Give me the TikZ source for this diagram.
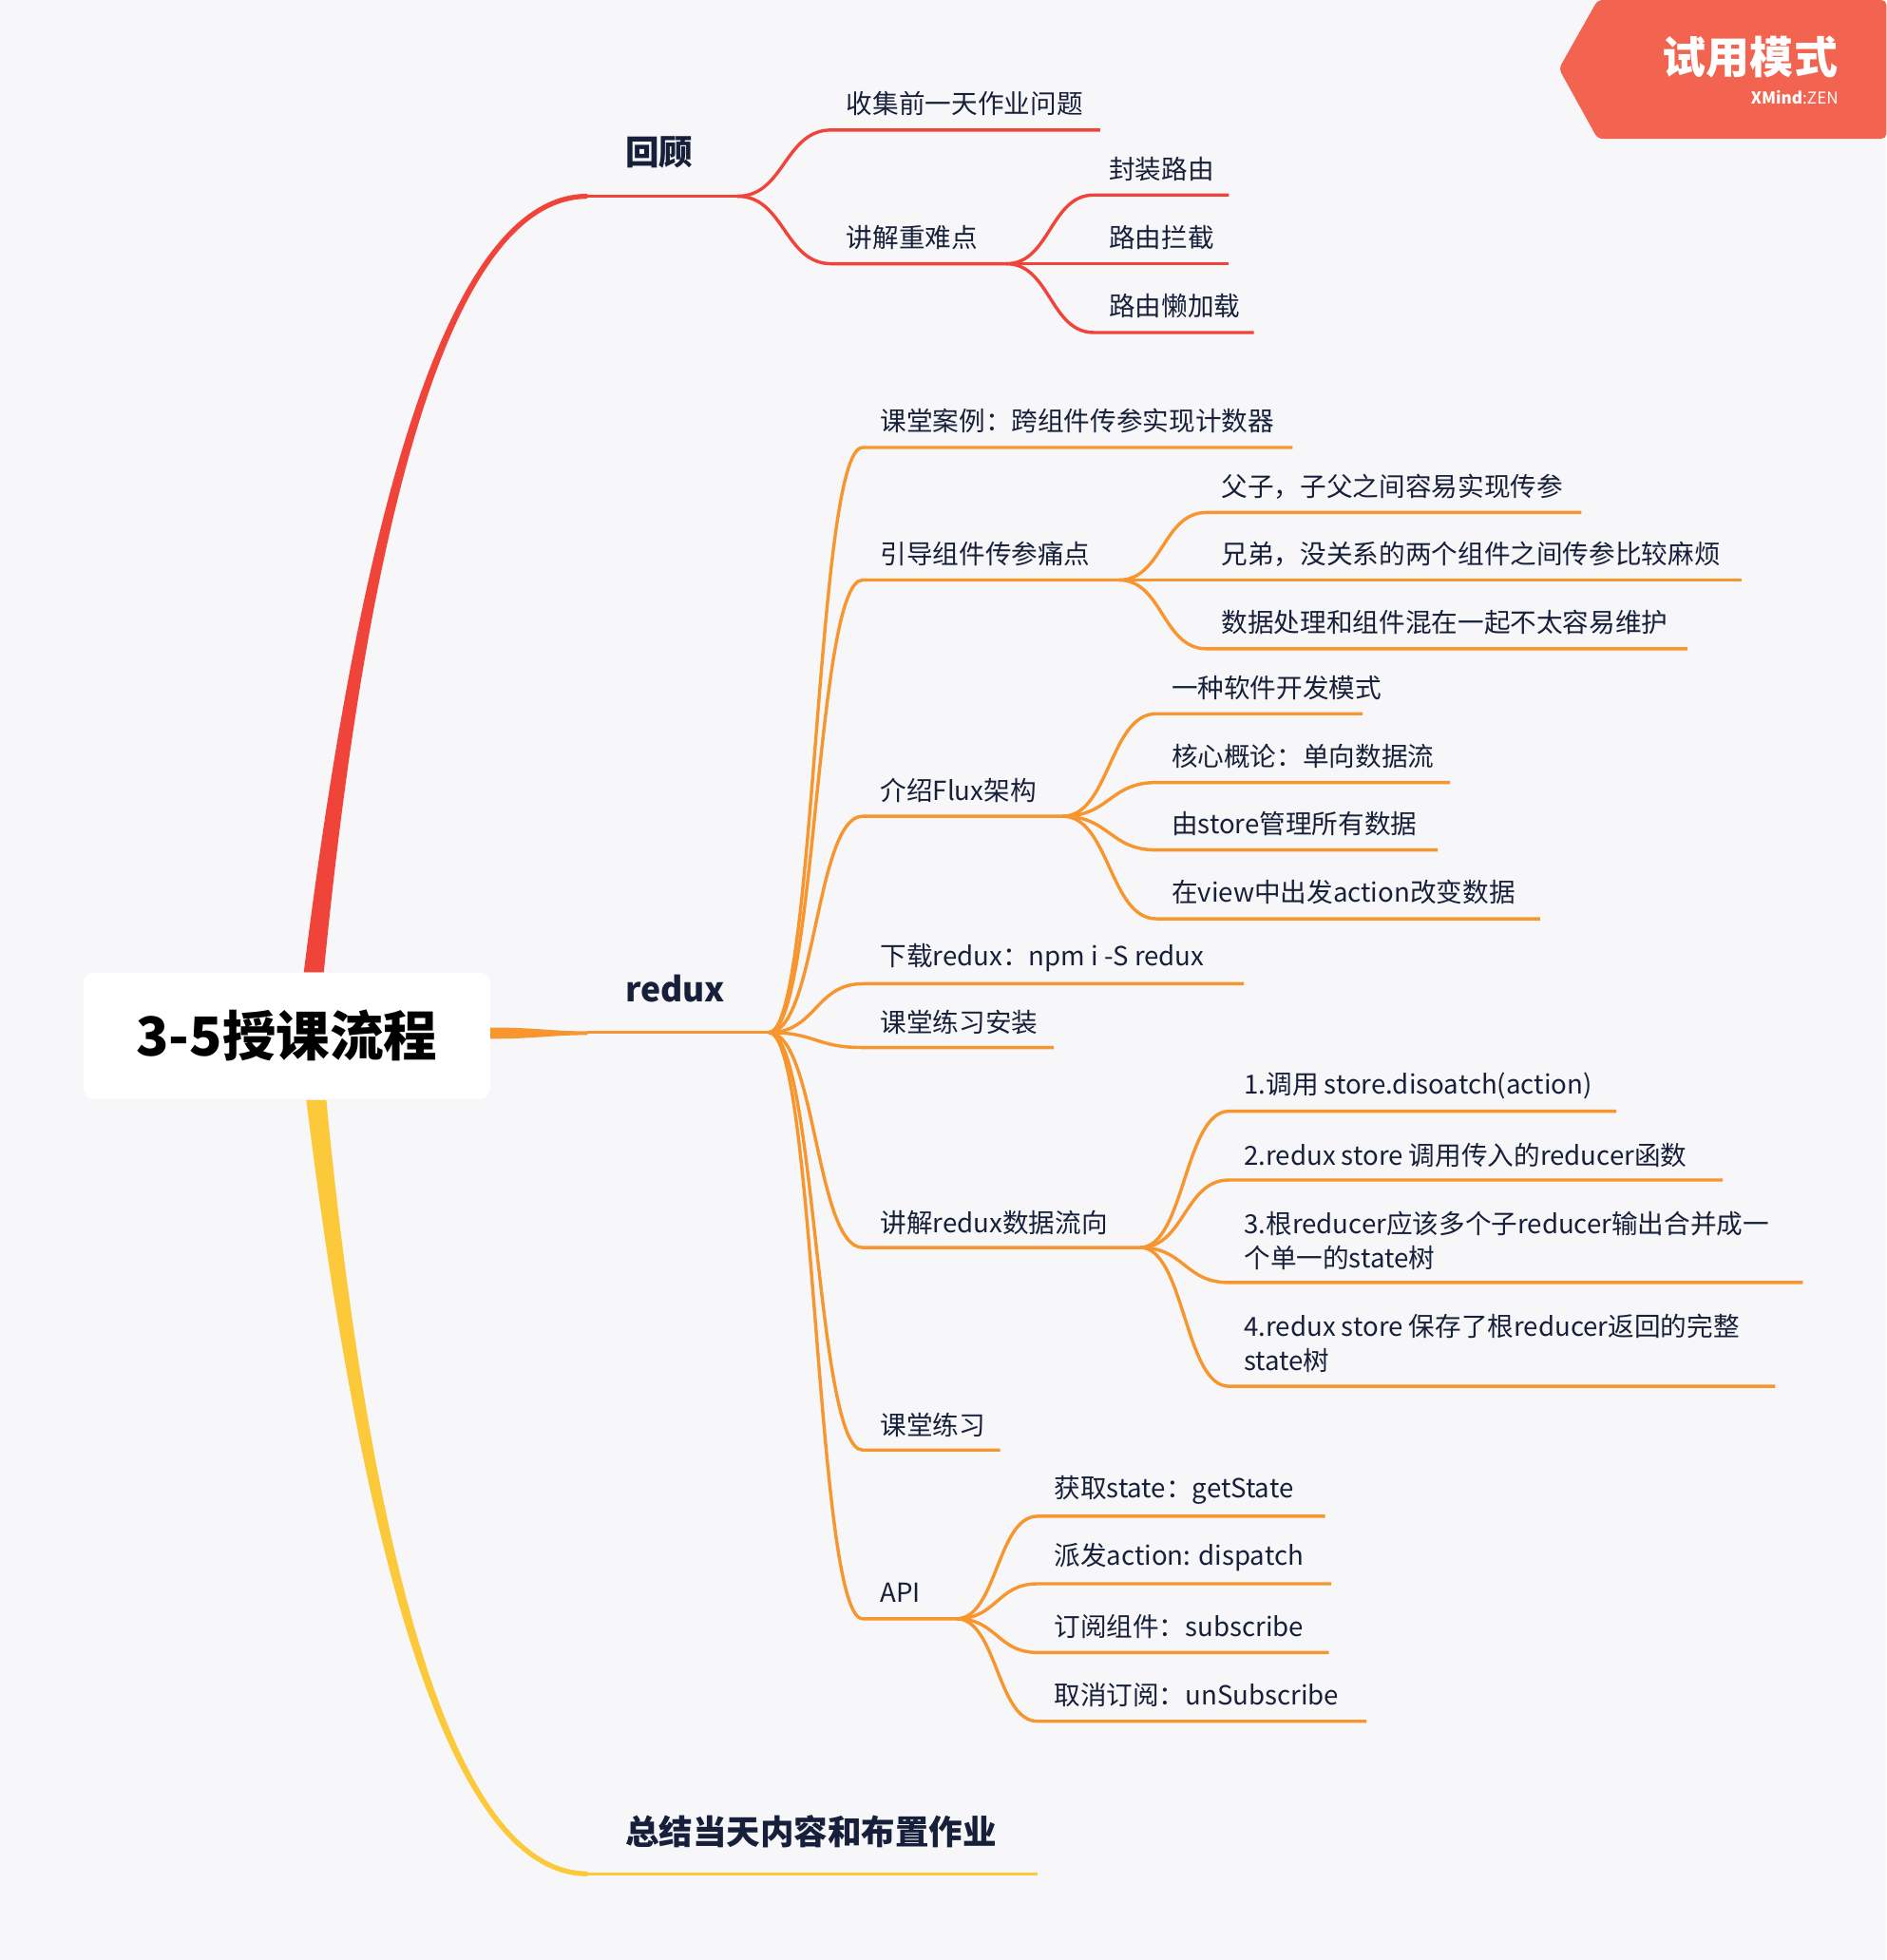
\documentclass[tikz,border=0pt]{standalone}
\usepackage{fontspec}
\setmainfont{Noto Sans CJK SC}
\begin{document}
\begin{tikzpicture}[x=1pt,y=-1pt,
 lab/.style={anchor=west,inner sep=0pt,font=\fontsize{21}{27}\selectfont,text=txt},
 mainlab/.style={anchor=west,inner sep=0pt,font=\fontsize{27}{30}\selectfont\bfseries,text=txt},
 br/.style={line width=2.6pt}]
\definecolor{bg}{HTML}{F7F7F9}\definecolor{txt}{HTML}{17203A}
\definecolor{cr}{HTML}{F0443A}\definecolor{co}{HTML}{F7962E}\definecolor{cy}{HTML}{FBC93A}
\definecolor{wm}{HTML}{F2644F}
\newcommand\conn[6]{\draw[br,#6] (#1,#2) .. controls ({(#1+#3)/2},#2) and ({(#1+#3)/2},#4) .. (#3,#4) -- (#5,#4);}
\fill[bg] (0,0) rectangle (1509,1568);
\useasboundingbox (0,0) rectangle (1509,1568);
% watermark
\fill[wm,rounded corners=4pt] (1278,0) -- (1509,0) -- (1509,111) -- (1278,111) -- (1247,55) -- cycle;
\node[text=white,font=\fontsize{35}{37}\selectfont\bfseries] (wm1) at (1400,46) {试用模式};
\node[text=white,font=\fontsize{13}{14}\selectfont,anchor=east] (wm2) at (1474,78) {\textbf{XMind}:ZEN};
% main tapered branches
\fill[cr] (243,778) .. controls (290,400) and (360,155) .. (470,155) -- (470,159) .. controls (364,159) and (296,400) .. (259,778) -- cycle;
\fill[co] (392,822) .. controls (430,822) and (440,825) .. (470,825) -- (470,828) .. controls (440,828) and (430,831) .. (392,831) -- cycle;
\fill[cy] (245,880) .. controls (292,1260) and (362,1501) .. (470,1501) -- (470,1497) .. controls (366,1497) and (298,1260) .. (261,880) -- cycle;
\draw[br,cr] (470,157) -- (590,157);
\draw[br,co] (470,826) -- (615,826);
\draw[br,cy] (470,1499) -- (830,1499);
% root
\node[fill=white,rounded corners=8pt,minimum width=325pt,minimum height=101pt,font=\fontsize{43}{46}\selectfont\bfseries,text=black] (root) at (229.5,828.5) {3-5授课流程};
\node[mainlab] (hg) at (500,122) {回顾};
\node[mainlab] (rd) at (500,791) {redux};
\node[mainlab] (zj) at (500,1465) {总结当天内容和布置作业};
% 回顾
\conn{590}{157}{665}{104}{880}{cr}\node[lab] (a1) at (677,83) {收集前一天作业问题};
\conn{590}{157}{665}{211}{805}{cr}\node[lab] (a2) at (677,190) {讲解重难点};
\conn{805}{211}{875}{156}{983}{cr}\node[lab] (a21) at (887,135) {封装路由};
\conn{805}{211}{875}{211}{983}{cr}\node[lab] (a22) at (887,190) {路由拦截};
\conn{805}{211}{875}{266}{1003}{cr}\node[lab] (a23) at (887,245) {路由懒加载};
% redux
\conn{615}{826}{690}{358}{1034}{co}\node[lab] (b1) at (704,337) {课堂案例：跨组件传参实现计数器};
\conn{615}{826}{690}{464}{895}{co}\node[lab] (b2) at (704,443) {引导组件传参痛点};
\conn{895}{464}{965}{410}{1265}{co}\node[lab] (b21) at (977,389) {父子，子父之间容易实现传参};
\conn{895}{464}{965}{464}{1393}{co}\node[lab] (b22) at (977,443) {兄弟，没关系的两个组件之间传参比较麻烦};
\conn{895}{464}{965}{519}{1350}{co}\node[lab] (b23) at (977,498) {数据处理和组件混在一起不太容易维护};
\conn{615}{826}{690}{653}{850}{co}\node[lab] (b3) at (704,632) {介绍Flux架构};
\conn{850}{653}{925}{571}{1090}{co}\node[lab] (b31) at (937,550) {一种软件开发模式};
\conn{850}{653}{925}{626}{1160}{co}\node[lab] (b32) at (937,605) {核心概论：单向数据流};
\conn{850}{653}{925}{680}{1150}{co}\node[lab] (b33) at (937,659) {由store管理所有数据};
\conn{850}{653}{925}{735}{1232}{co}\node[lab] (b34) at (937,714) {在view中出发action改变数据};
\conn{615}{826}{690}{787}{995}{co}\node[lab] (b4) at (704,766) {下载redux：npm i -S redux};
\conn{615}{826}{690}{838}{843}{co}\node[lab] (b5) at (704,818) {课堂练习安装};
\conn{615}{826}{690}{998}{912}{co}\node[lab] (b6) at (704,978) {讲解redux数据流向};
\conn{912}{998}{983}{889}{1293}{co}\node[lab] (b61) at (995,869) {1.调用 store.disoatch(action)};
\conn{912}{998}{983}{944}{1378}{co}\node[lab] (b62) at (995,924) {2.redux store 调用传入的reducer函数};
\conn{912}{998}{983}{1026}{1442}{co}\node[lab,align=left] (b63) at (995,992.5) {3.根reducer应该多个子reducer输出合并成一\\个单一的state树};
\conn{912}{998}{983}{1109}{1420}{co}\node[lab,align=left] (b64) at (995,1074.5) {4.redux store 保存了根reducer返回的完整\\state树};
\conn{615}{826}{690}{1160}{800}{co}\node[lab] (b7) at (704,1140) {课堂练习};
\conn{615}{826}{690}{1295}{765}{co}\node[lab] (b8) at (704,1274) {API};
\conn{765}{1295}{830}{1213}{1060}{co}\node[lab] (b81) at (843,1192) {获取state：getState};
\conn{765}{1295}{830}{1267}{1065}{co}\node[lab] (b82) at (843,1246) {派发action: dispatch};
\conn{765}{1295}{830}{1322}{1063}{co}\node[lab] (b83) at (843,1301) {订阅组件：subscribe};
\conn{765}{1295}{830}{1377}{1093}{co}\node[lab] (b84) at (843,1356) {取消订阅：unSubscribe};
\end{tikzpicture}
\end{document}
